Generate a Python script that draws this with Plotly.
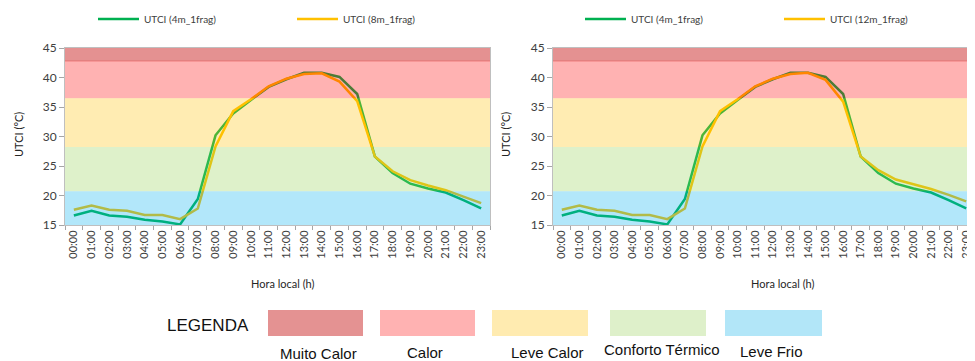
import plotly.graph_objects as go

# page is rendered with an 8px body margin: work in page pixels, convert to figure coords
OFF = 8
W, H = 975 - OFF, 361 - OFF

hours = [f"{h:02d}:00" for h in range(24)]
utci_4m = [16.6, 17.4, 16.6, 16.4, 15.9, 15.6, 15.1, 19.4, 30.2, 33.9, 36.2, 38.4,
           39.7, 40.8, 40.8, 40.1, 37.2, 26.6, 23.8, 22.0, 21.2, 20.5, 19.2, 17.8]
utci_8m = [17.6, 18.3, 17.6, 17.4, 16.7, 16.7, 16.0, 17.8, 28.3, 34.3, 36.3, 38.5,
           39.8, 40.6, 40.7, 39.3, 36.0, 26.6, 24.1, 22.6, 21.7, 20.9, 19.8, 18.7]
utci_12m = [17.6, 18.3, 17.6, 17.4, 16.7, 16.7, 16.0, 17.8, 28.3, 34.3, 36.3, 38.5,
            39.8, 40.6, 40.8, 39.6, 35.9, 26.6, 24.3, 22.7, 21.9, 21.1, 20.1, 19.0]

band_names = ["Muito Calor", "Calor", "Leve Calor", "Conforto Térmico", "Leve Frio"]
band_low = [42.8, 36.5, 28.2, 20.7, 15]
band_high = [45, 42.8, 36.5, 28.2, 20.7]
band_base = ["rgb(192,0,0)", "rgb(255,0,0)", "rgb(255,192,0)", "rgb(146,208,80)", "rgb(0,176,240)"]
band_opac = [0.43, 0.3, 0.3, 0.3, 0.3]
legend_colors = ["rgb(228,146,146)", "rgb(255,178,178)", "rgb(255,235,176)",
                 "rgb(222,240,202)", "rgb(178,230,248)"]

GREEN = "#00B050"
YELLOW = "#FFC000"
FONT = "Lato, Liberation Sans, sans-serif"
SANS = "Liberation Sans, Arial, sans-serif"
TXT = "#404040"


def px(x):
    return (x - OFF) / W


def py(y):
    return 1 - (y - OFF) / H


fig = go.Figure()
fig.add_trace(go.Scatter(x=hours, y=utci_4m, mode="lines", name="UTCI (4m_1frag)", showlegend=True,
                         line=dict(color=GREEN, width=2.5), xaxis="x", yaxis="y", legend="legend"))
fig.add_trace(go.Scatter(x=hours, y=utci_8m, mode="lines", name="UTCI (8m_1frag)", showlegend=True,
                         line=dict(color=YELLOW, width=2.5), xaxis="x", yaxis="y", legend="legend2"))
fig.add_trace(go.Scatter(x=hours, y=utci_4m, mode="lines", name="UTCI (4m_1frag)", showlegend=True,
                         line=dict(color=GREEN, width=2.5), xaxis="x2", yaxis="y2", legend="legend3"))
fig.add_trace(go.Scatter(x=hours, y=utci_12m, mode="lines", name="UTCI (12m_1frag)", showlegend=True,
                         line=dict(color=YELLOW, width=2.5), xaxis="x2", yaxis="y2", legend="legend4"))

shapes = []
for xr, yr in (("x domain", "y"), ("x2 domain", "y2")):
    for lo, hi, c, o in zip(band_low, band_high, band_base, band_opac):
        shapes.append(dict(type="rect", xref=xr, yref=yr, x0=0, x1=1, y0=lo, y1=hi,
                           fillcolor=c, opacity=o, line=dict(width=0), layer="above"))
    shapes.append(dict(type="line", xref=xr, yref=yr, x0=0, x1=1, y0=band_low[0], y1=band_low[0],
                       line=dict(color="rgba(230,90,90,0.6)", width=1.2), layer="above"))

# bottom legend boxes
box_x = [(268, 363), (380, 475), (492, 588), (610, 706), (725, 822)]
for (x0, x1), c in zip(box_x, legend_colors):
    shapes.append(dict(type="rect", xref="paper", yref="paper", x0=px(x0), x1=px(x1),
                       y0=py(336), y1=py(310), fillcolor=c, line=dict(width=0)))

annotations = []


def note(text, x, y, size, color, family, angle=0):
    annotations.append(dict(text=text, x=px(x), y=py(y), xref="paper", yref="paper",
                            xanchor="center", yanchor="middle", showarrow=False, textangle=angle,
                            font=dict(size=size, color=color, family=family)))


for cx in (283, 783):
    note("Hora local (h)", cx, 283, 11, "#262626", FONT)
for cx in (18, 505):
    note("UTCI (°C)", cx, 135, 11, "#262626", FONT, angle=-90)
note("LEGENDA", 208, 325, 17, "#111111", SANS)
lab_x = [318, 425, 547, 662, 771]
lab_y = [353, 352, 352, 349, 351]
for name, lx, ly in zip(band_names, lab_x, lab_y):
    note(name, lx, ly, 15, "#111111", SANS)

xcommon = dict(type="category", range=[-0.5, 23.5], tickson="boundaries", ticks="outside", ticklen=4,
               tickcolor="#A6A6A6", tickangle=-90, tickfont=dict(size=11, color=TXT, family=FONT),
               showline=True, linecolor="#BFBFBF", mirror=True, showgrid=False, zeroline=False,
               automargin=False)
ycommon = dict(range=[15, 45], dtick=5, ticks="outside", ticklen=5, tickcolor="#A6A6A6",
               tickfont=dict(size=12, color=TXT, family=FONT), showline=True, linecolor="#BFBFBF",
               mirror=True, showgrid=False, zeroline=False, automargin=False)

ydom = [py(225), py(48)]
legend_common = dict(orientation="h", yanchor="middle", y=py(19), xanchor="left",
                     font=dict(size=10, color=TXT, family=FONT), itemwidth=41,
                     bgcolor="rgba(0,0,0,0)", borderwidth=0)

fig.update_layout(
    width=W, height=H, margin=dict(l=0, r=0, t=0, b=0, autoexpand=False),
    paper_bgcolor="white", plot_bgcolor="white", showlegend=True,
    xaxis=dict(domain=[px(65), px(490)], anchor="y", **xcommon),
    yaxis=dict(domain=ydom, anchor="x", **ycommon),
    xaxis2=dict(domain=[px(553), 1.0], anchor="y2", **xcommon),
    yaxis2=dict(domain=ydom, anchor="x2", **ycommon),
    legend=dict(x=px(93), **legend_common),
    legend2=dict(x=px(292), **legend_common),
    legend3=dict(x=px(580), **legend_common),
    legend4=dict(x=px(779), **legend_common),
    shapes=shapes, annotations=annotations,
    font=dict(family=FONT, color=TXT),
)

fig.write_html("out.html")
